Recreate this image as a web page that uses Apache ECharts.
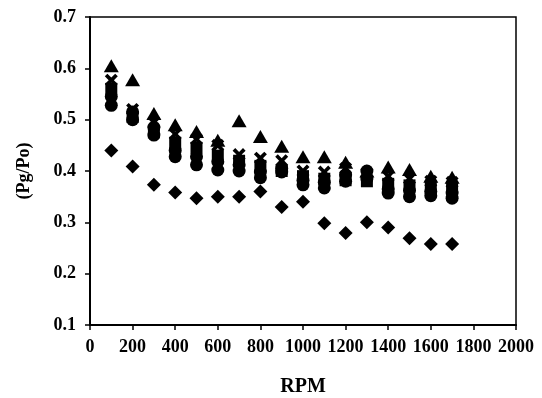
<!DOCTYPE html>
<html>
<head>
<meta charset="utf-8">
<script src="https://cdn.jsdelivr.net/npm/echarts@6/dist/echarts.min.js"></script>
<style>
  html, body { margin: 0; padding: 0; background: #fff; }
  #chart { width: 542px; height: 398px; }
</style>
</head>
<body>
<div id="chart"></div>
<script>
// rotational speed (RPM)
const rpm = [100, 200, 300, 400, 500, 600, 700, 800, 900, 1000, 1100, 1200, 1300, 1400, 1500, 1600, 1700];

// Pg/Po ratios, one array per marker series
const triSeries = [0.605, 0.578, 0.512, 0.490, 0.477, 0.460, 0.498, 0.467, 0.448, 0.428, 0.428, 0.417, 0.400, 0.408, 0.403, 0.390, 0.388];
const crossSeries = [0.577, 0.520, 0.495, 0.472, 0.462, 0.450, 0.432, 0.425, 0.420, 0.400, 0.398, 0.405, 0.395, 0.390, 0.385, 0.380, 0.378];
const squareSeries = [0.560, 0.505, 0.475, 0.455, 0.445, 0.430, 0.420, 0.410, 0.400, 0.390, 0.385, 0.382, 0.380, 0.375, 0.372, 0.370, 0.368];
const circleSeriesA = [0.545, 0.515, 0.485, 0.440, 0.428, 0.418, 0.412, 0.398, 0.405, 0.382, 0.378, 0.392, 0.400, 0.365, 0.362, 0.360, 0.357];
const circleSeriesB = [0.528, 0.500, 0.470, 0.428, 0.412, 0.402, 0.400, 0.387, 0.398, 0.373, 0.367, 0.380, 0.385, 0.357, 0.350, 0.352, 0.347];
const diamondSeries = [0.440, 0.409, 0.373, 0.358, 0.347, 0.350, 0.350, 0.360, 0.330, 0.340, 0.298, 0.279, 0.300, 0.290, 0.269, 0.258, 0.258];

const xTicks = { min: 0, max: 2000, step: 200 };
const yTicks = { min: 0.1, max: 0.7, step: 0.1 };

const FONT = '"Liberation Serif", "Times New Roman", serif';
const crossPath = 'path://M0,2L2,0L5,3L8,0L10,2L7,5L10,8L8,10L5,7L2,10L0,8L3,5Z';

const pairs = (ys) => rpm.map((x, i) => [x, ys[i]]);

function scatter(name, ys, symbol, size) {
  return {
    name,
    type: 'scatter',
    data: pairs(ys),
    symbol,
    symbolSize: size,
    itemStyle: { color: '#000', opacity: 1 },
    emphasis: { disabled: true },
    silent: true,
  };
}

const chart = echarts.init(document.getElementById('chart'), null, { renderer: 'canvas' });

chart.setOption({
  animation: false,
  backgroundColor: '#fff',
  grid: {
    show: true,
    left: 90,
    right: 26,
    top: 17,
    bottom: 73,
    outerBoundsMode: 'none',
    containLabel: false,
    borderColor: '#000',
    borderWidth: 1.5,
    backgroundColor: 'transparent',
  },
  xAxis: {
    type: 'value',
    min: xTicks.min,
    max: xTicks.max,
    interval: xTicks.step,
    name: 'RPM',
    nameLocation: 'middle',
    nameGap: 52,
    nameTextStyle: { fontFamily: FONT, fontWeight: 'bold', fontSize: 20, color: '#000' },
    axisLine: { show: true, onZero: false, lineStyle: { color: '#000', width: 2 } },
    axisTick: { show: true, inside: false, length: 5, lineStyle: { color: '#000', width: 1.5 } },
    axisLabel: {
      fontFamily: FONT, fontWeight: 'bold', fontSize: 18, color: '#000', margin: 13,
      formatter: (v) => String(v),
    },
    splitLine: { show: false },
  },
  yAxis: {
    type: 'value',
    min: yTicks.min,
    max: yTicks.max,
    interval: yTicks.step,
    name: '(Pg/Po)',
    nameLocation: 'middle',
    nameGap: 57,
    nameRotate: 90,
    nameTextStyle: { fontFamily: FONT, fontWeight: 'bold', fontSize: 18, color: '#000' },
    axisLine: { show: true, onZero: false, lineStyle: { color: '#000', width: 2 } },
    axisTick: { show: true, inside: false, length: 5, lineStyle: { color: '#000', width: 1.5 } },
    axisLabel: {
      fontFamily: FONT, fontWeight: 'bold', fontSize: 18, color: '#000', margin: 14,
      formatter: (v) => v.toFixed(1),
    },
    splitLine: { show: false },
  },
  legend: { show: false },
  series: [
    scatter('Diamond', diamondSeries, 'diamond', [14, 14]),
    scatter('Circle B', circleSeriesB, 'circle', 13),
    scatter('Circle A', circleSeriesA, 'circle', 13),
    scatter('Square', squareSeries, 'rect', 12),
    scatter('Cross', crossSeries, crossPath, 13),
    scatter('Triangle', triSeries, 'triangle', [15, 13]),
  ],
});
</script>
</body>
</html>
